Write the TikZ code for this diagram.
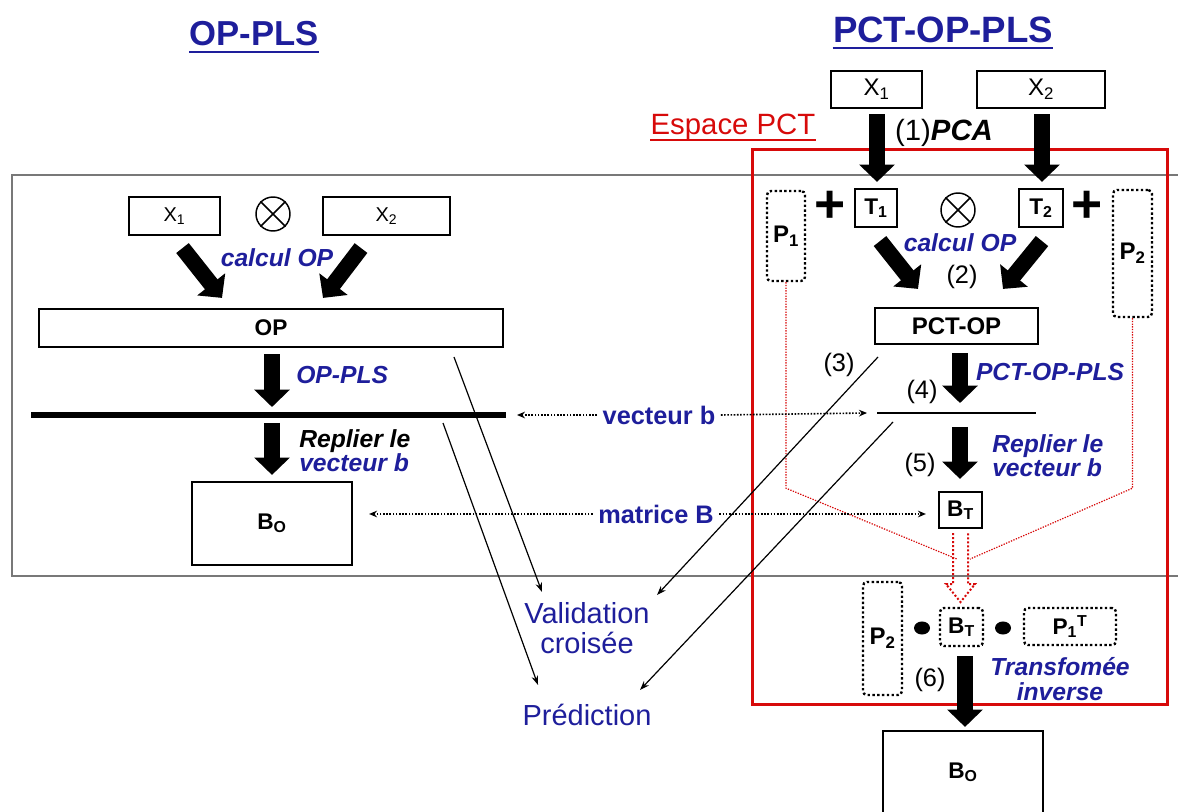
\documentclass[tikz,border=0pt]{standalone}
\usepackage{fontspec}
\setmainfont{Liberation Sans}
\usetikzlibrary{arrows.meta,calc}
\definecolor{tblue}{RGB}{30,30,155}
\definecolor{tred}{RGB}{215,10,10}
\definecolor{tgray}{RGB}{120,120,120}
\begin{document}
\begin{tikzpicture}[x=0.75pt,y=-0.75pt,
  box/.style={draw, line width=1.6pt, inner sep=0pt, align=center},
  dbox/.style={draw, line width=1.8pt, dash pattern=on 1.8pt off 1.8pt, rounded corners=3pt, inner sep=0pt},
  fat/.style={line width=12pt, -{Triangle[width=26pt,length=13pt]}},
  thinar/.style={line width=0.9pt, -{Stealth[length=7pt,width=5pt]}},
  dots/.style={line width=1.2pt, dash pattern=on 1.2pt off 1.2pt, -{Stealth[length=6pt,width=5pt]}},
  rdots/.style={tred, line width=0.9pt, dash pattern=on 1pt off 1pt},
  blab/.style={text=tblue, font=\fontsize{18.5}{17}\selectfont\bfseries\itshape, inner sep=0pt, align=left},
  bbl/.style={text=tblue, font=\fontsize{19}{22}\selectfont\bfseries, inner sep=4pt},
  num/.style={font=\fontsize{19}{22}\selectfont, inner sep=0pt},
  vtext/.style={text=tblue, font=\fontsize{21.75}{22.5}\selectfont, inner sep=0pt, align=center},
  bf17/.style={font=\fontsize{17}{20}\selectfont\bfseries},
  bf18/.style={font=\fontsize{18}{20}\selectfont\bfseries},
  otimes/.style={circle, draw, line width=1.1pt, minimum size=25.5pt, inner sep=0pt}
]
\useasboundingbox (0,0) rectangle (1178,812);

% frames
\draw[tgray, line width=1.9pt] (1178,175) -- (12,175) -- (12,576) -- (1178,576);
\draw[tred, line width=2.25pt] (752,150) rectangle (1167,704);

% titles
\node[anchor=base, font=\fontsize{26}{30}\selectfont\bfseries, text=tblue, inner sep=0pt] (t1) at (254,46) {OP-PLS};
\draw[tblue, line width=1.8pt] ($(t1.base west)+(0,6)$) -- ($(t1.base east)+(0,6)$);
\node[anchor=base, font=\fontsize{27.5}{30}\selectfont\bfseries, text=tblue, inner sep=0pt] (t2) at (943,43) {PCT-OP-PLS};
\draw[tblue, line width=1.8pt] ($(t2.base west)+(0,5)$) -- ($(t2.base east)+(0,5)$);
\node[anchor=base, font=\fontsize{22}{24}\selectfont, text=tred, inner sep=0pt] (ep) at (733,135) {Espace PCT};
\draw[tred, line width=1.6pt] ($(ep.base west)+(0,5)$) -- ($(ep.base east)+(0,5)$);

% ---------- left: OP-PLS ----------
\node[box, minimum width=68.25pt, minimum height=28.5pt, font=\fontsize{15}{18}\selectfont] (lX1) at (174.5,216) {X\textsubscript{1}};
\node[box, minimum width=95.25pt, minimum height=28.5pt, font=\fontsize{15}{18}\selectfont] (lX2) at (386.5,216) {X\textsubscript{2}};
\node[otimes] (ot1) at (273,214) {};
\draw[line width=1.1pt] (ot1.north west) -- (ot1.south east) (ot1.north east) -- (ot1.south west);
\node[blab] (lcalc) at (277,258) {calcul OP};
\node[box, bf17, minimum width=348pt, minimum height=28.5pt] (lOP) at (271,328) {OP};
\draw[fat] ($(lX1.south)+(8,12)$) -- ($(lOP.north)+(-49,-10)$);
\draw[fat] ($(lX2.south)+(-25.5,12)$) -- ($(lOP.north)+(52,-10)$);

\coordinate (lb1) at (31,415);
\coordinate (lb2) at (506,415);
\draw[line width=4.5pt] (lb1) -- (lb2);
\draw[fat] ($(lOP.south)+(1,6)$) -- ($(lb1)+(241,-8)$);
\node[blab, anchor=west] (lopls) at (296,375) {OP-PLS};

\node[box, bf17, minimum width=120pt, minimum height=62.25pt] (lBO) at (272,523.5) {B\textsubscript{O}};
\draw[fat] ($(lb1)+(241,8)$) -- ($(lBO.north)+(0,-6)$);
\node[blab, anchor=west] (lrep) at (299,451) {{\color{black}Replier le}\\vecteur b};

% ---------- right: PCT-OP-PLS ----------
\node[box, minimum width=68.25pt, minimum height=27.75pt, font=\fontsize{18}{20}\selectfont] (rX1) at (876.5,89.5) {X\textsubscript{1}};
\node[box, minimum width=96pt, minimum height=27.75pt, font=\fontsize{18}{20}\selectfont] (rX2) at (1041,89.5) {X\textsubscript{2}};
\node[anchor=base, font=\fontsize{22}{24}\selectfont, inner sep=0pt] (pca) at (944,141) {(1)\textbf{\textit{PCA}}};

\node[box, bf17, minimum width=31.5pt, minimum height=28.5pt] (T1) at (876,208) {T\textsubscript{1}};
\node[box, bf17, minimum width=33pt, minimum height=28.5pt] (T2) at (1041,208) {T\textsubscript{2}};
\draw[fat] ($(rX1.south)+(0.5,5)$) -- ($(T1.north)+(1,-6)$);
\draw[fat] ($(rX2.south)+(1,5)$) -- ($(T2.north)+(1,-6)$);
\node[font=\fontsize{40}{40}\selectfont\bfseries, inner sep=0pt] (plus1) at (830,207) {+};
\node[font=\fontsize{40}{40}\selectfont\bfseries, inner sep=0pt] (plus2) at (1087,207) {+};
\node[otimes] (ot2) at (958,210) {};
\draw[line width=1.1pt] (ot2.north west) -- (ot2.south east) (ot2.north east) -- (ot2.south west);
\node[dbox, bf18, minimum width=28.5pt, minimum height=67.5pt] (P1) at (786,236) {P\textsubscript{1}};
\node[dbox, bf18, minimum width=29.25pt, minimum height=95.25pt] (P2) at (1132.5,253.5) {P\textsubscript{2}};
\node[blab] (rcalc) at (960,243) {calcul OP};
\node[num] (n2) at (962,277) {(2)};

\node[box, bf18, minimum width=122.25pt, minimum height=27pt] (pctop) at (956.5,326) {PCT-OP};
\draw[fat] ($(T1.south)+(4,13)$) -- ($(pctop.north)+(-38.5,-18)$);
\draw[fat] ($(T2.south)+(1,13)$) -- ($(pctop.north)+(46.5,-18)$);

\coordinate (rb1) at (877,413);
\coordinate (rb2) at (1036,413);
\draw[line width=1.6pt] (rb1) -- (rb2);
\draw[fat] ($(pctop.south)+(3.5,8)$) -- ($(rb1)+(83,-10)$);
\node[blab] (rpls) at (1050,372) {PCT-OP-PLS};
\node[num] (n3) at (839,365) {(3)};
\node[num] (n4) at (922,392) {(4)};

\node[box, bf17, minimum width=32.25pt, minimum height=27pt] (bT) at (960.5,510) {B\textsubscript{T}};
\draw[fat] ($(rb1)+(83,14)$) -- ($(bT.north)+(-0.5,-12)$);
\node[num] (n5) at (920,465) {(5)};
\node[blab, anchor=west] (rrep) at (992,456) {Replier le\\vecteur b};

% red dotted P lines and hollow arrow
\draw[rdots] (P1.south) -- ++(0,206) -- ($(bT.south)+(-3.5,30)$);
\draw[rdots] (P2.south) -- ++(0,170) -- ($(bT.south)+(9.5,30)$);
\draw[tred, line width=1.5pt, dash pattern=on 1.5pt off 1.5pt]
  ($(bT.south)+(-7.5,4)$) -- ++(0,51) -- ++(-7,0) -- ++(14.5,18) -- ++(14.5,-18) -- ++(-7,0) -- ++(0,-51);

% inverse transform
\node[dbox, bf18, minimum width=29.25pt, minimum height=84.75pt] (P2b) at (882.5,638.5) {P\textsubscript{2}};
\node[dbox, bf17, minimum width=32.25pt, minimum height=28.5pt] (bTd) at (961.5,627) {B\textsubscript{T}};
\node[dbox, bf17, minimum width=69pt, minimum height=27.75pt] (P1T) at (1070,626.5) {P\textsubscript{1}\textsuperscript{T}};
\fill (922,628) ellipse [x radius=6pt, y radius=4.9pt];
\fill (1003,628) ellipse [x radius=6pt, y radius=4.9pt];
\node[box, bf17, minimum width=120pt, minimum height=62.25pt] (rBO) at (963,772.5) {B\textsubscript{O}};
\draw[fat] ($(bTd.south)+(3.5,9)$) -- ($(rBO.north)+(2,-3)$);
\node[num] (n6) at (930,680) {(6)};
\node[blab, align=center, font=\fontsize{18.5}{18.5}\selectfont\bfseries\itshape] (tinv) at (1060,679) {Transfomée\\inverse};

% shared labels
\node[bbl] (vb) at (659,415) {vecteur b};
\node[bbl] (mb) at (656,514) {matrice B};
\draw[dots] (vb.west) -- ($(lb2)+(11,0)$);
\draw[dots] (vb.east) -- ($(rb1)+(-10,0)$);
\draw[dots] (mb.west) -- ($(lBO.east)+(16,-9.5)$);
\draw[dots] (mb.east) -- ($(bT.west)+(-12,4)$);

\node[vtext] (val) at (587,628) {Validation\\croisée};
\node[vtext] (pred) at (587,715) {Prédiction};
\draw[thinar] ($(lOP)+(183,29)$) -- ($(val)+(-45,-36)$);
\draw[thinar] ($(lb2)+(-63,8)$) -- ($(pred)+(-49,-30)$);
\draw[thinar] ($(pctop)+(-78.5,31)$) -- ($(val)+(70,-33)$);
\draw[thinar] ($(rb1)+(16,9)$) -- ($(pred)+(53,-25)$);
\end{tikzpicture}
\end{document}
